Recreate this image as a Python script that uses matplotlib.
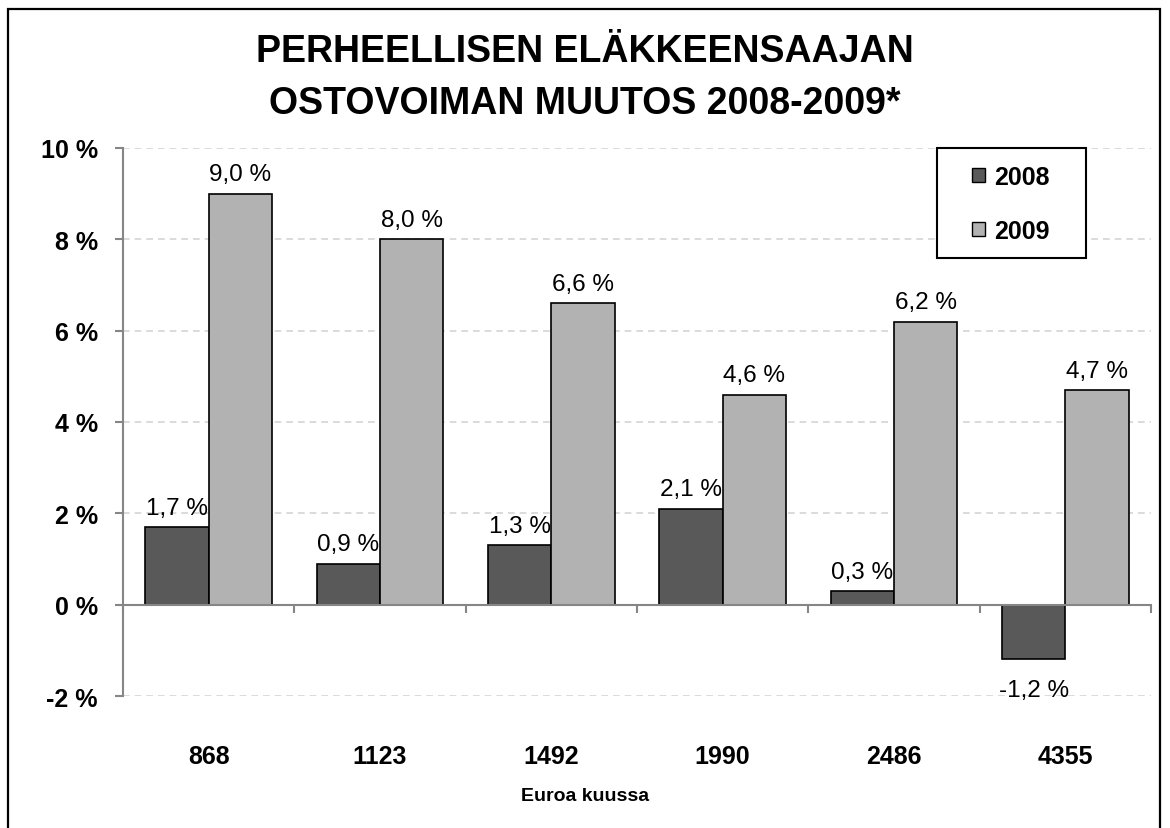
import matplotlib.pyplot as plt
import matplotlib.transforms as mtransforms
from matplotlib.patches import Patch, Rectangle

# data
incomes = ["868", "1123", "1492", "1990", "2486", "4355"]
change_2008 = [1.7, 0.9, 1.3, 2.1, 0.3, -1.2]
change_2009 = [9.0, 8.0, 6.6, 4.6, 6.2, 4.7]
series_names = ["2008", "2009"]
y_ticks = [-2, 0, 2, 4, 6, 8, 10]

plt.rcParams["font.family"] = ["Liberation Sans", "DejaVu Sans"]

dark = "#595959"
light = "#b2b2b2"
axis_gray = "#868686"

def pct(v):
    return f"{v:.1f} %".replace(".", ",")

fig = plt.figure(figsize=(11.7, 8.29), dpi=100)
ax = fig.add_axes([0.1051, 0.1592, 0.8787, 0.6611])

# outer chart frame
fig.patches.append(Rectangle((8 / 1170, -0.01), 1152 / 1170, 1 - 10 / 829 + 0.01,
                             transform=fig.transFigure, fill=False,
                             edgecolor="black", linewidth=1.6))

x = list(range(len(incomes)))
w = 0.37
b1 = ax.bar([i - w / 2 for i in x], change_2008, w, color=dark,
            edgecolor="black", linewidth=1.2, zorder=3)
b2 = ax.bar([i + w / 2 for i in x], change_2009, w, color=light,
            edgecolor="black", linewidth=1.2, zorder=3)

for bars, vals in ((b1, change_2008), (b2, change_2009)):
    for bar, v in zip(bars, vals):
        cx = bar.get_x() + bar.get_width() / 2
        if v >= 0:
            ax.annotate(pct(v), (cx, v), xytext=(0, 6), textcoords="offset points",
                        ha="center", va="bottom", fontsize=17.5)
        else:
            ax.annotate(pct(v), (cx, v), xytext=(0, -14), textcoords="offset points",
                        ha="center", va="top", fontsize=17.5)

ax.set_xlim(-0.5, 5.5)
ax.set_ylim(-2, 10)
ax.set_yticks(y_ticks)
ax.set_yticklabels([f"{t} %" for t in y_ticks], fontsize=18, fontweight="bold")
ax.tick_params(axis="y", length=6, width=1.5, color=axis_gray, pad=12)

for t in y_ticks:
    if t != 0:
        ax.axhline(t, color="#d4d4d4", linewidth=1.2, linestyle=(0, (4, 3)), zorder=1)

for s in ("top", "right"):
    ax.spines[s].set_visible(False)
ax.spines["left"].set_color(axis_gray)
ax.spines["left"].set_linewidth(1.5)
ax.spines["bottom"].set_position(("data", 0))
ax.spines["bottom"].set_color(axis_gray)
ax.spines["bottom"].set_linewidth(1.5)
ax.spines["bottom"].set_zorder(4)

ax.set_xticks([i - 0.5 for i in range(len(incomes) + 1)])
ax.set_xticklabels([])
ax.tick_params(axis="x", length=6, width=1.5, color=axis_gray, direction="out")

trans = mtransforms.blended_transform_factory(ax.transData, ax.transAxes)
for i, lab in enumerate(incomes):
    ax.text(i, -0.11, lab, transform=trans, ha="center", va="center",
            fontsize=18, fontweight="bold")

fig.text(0.5, 1 - 797 / 829, "Euroa kuussa", ha="center", va="center",
         fontsize=14, fontweight="bold")

fig.text(0.5, 1 - 78 / 829, "PERHEELLISEN ELÄKKEENSAAJAN\nOSTOVOIMAN MUUTOS 2008-2009*",
         ha="center", va="center", fontsize=27, fontweight="bold", linespacing=1.6)

# legend box drawn separately so padding can differ horizontally/vertically
fig.patches.append(Rectangle((937 / 1170, 1 - 259 / 829), 149 / 1170, 110 / 829,
                             transform=fig.transFigure, facecolor="white",
                             edgecolor="black", linewidth=1.5, zorder=5))
handles = [Patch(facecolor=dark, edgecolor="black"), Patch(facecolor=light, edgecolor="black")]
leg = fig.legend(handles, series_names, loc="center",
                 bbox_to_anchor=(1011 / 1170, 1 - 205 / 829),
                 prop={"weight": "bold", "size": 18}, frameon=False,
                 handlelength=0.5, handleheight=0.5, handletextpad=0.4,
                 labelspacing=1.2, borderpad=0, borderaxespad=0)
leg.set_zorder(6)

plt.savefig("out.png", dpi=100)
